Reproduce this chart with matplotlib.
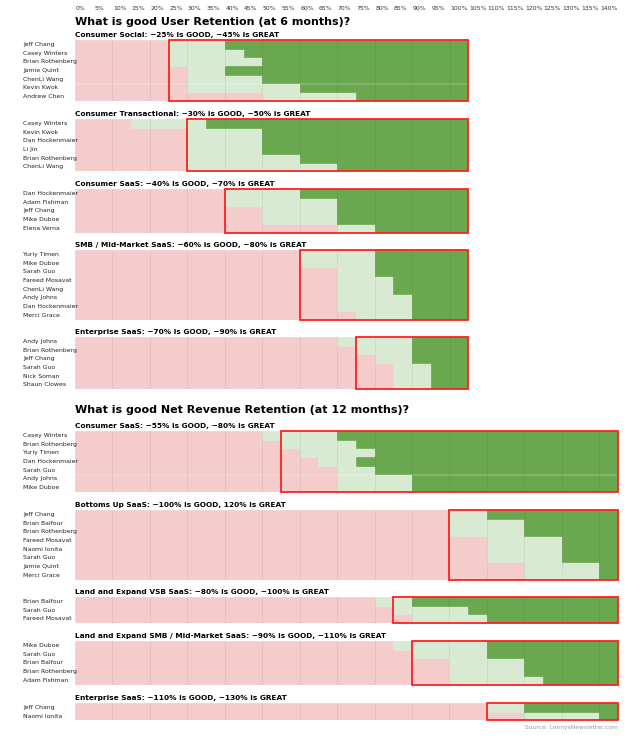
import matplotlib
matplotlib.use("Agg")
import matplotlib.pyplot as plt
from matplotlib.patches import Rectangle

W, H = 640, 739
X0, PX_PER_PCT = 75, 3.745
ROW_H = 8.7

PINK = "#f4cccc"
LIGHT = "#d9ead3"
DARK = "#6aa84f"

TITLE_UR = "What is good User Retention (at 6 months)?"
TITLE_NRR = "What is good Net Revenue Retention (at 12 months)?"

# user retention panels: names, good %, great %
social_names = ["Jeff Chang", "Casey Winters", "Brian Rothenberg", "Jamie Quint",
                "ChenLi Wang", "Kevin Kwok", "Andrew Chen"]
social_good = [25, 25, 25, 30, 30, 30, 50]
social_great = [40, 45, 50, 40, 50, 60, 75]

trans_names = ["Casey Winters", "Kevin Kwok", "Dan Hockenmaier", "Li Jin",
               "Brian Rothenberg", "ChenLi Wang"]
trans_good = [15, 30, 30, 30, 30, 30]
trans_great = [35, 50, 50, 50, 60, 70]

csaas_names = ["Dan Hockenmaier", "Adam Fishman", "Jeff Chang", "Mike Duboe", "Elena Verna"]
csaas_good = [40, 40, 50, 50, 70]
csaas_great = [60, 70, 70, 70, 80]

smb_names = ["Yuriy Timen", "Mike Duboe", "Sarah Guo", "Fareed Mosavat", "ChenLi Wang",
             "Andy Johns", "Dan Hockenmaier", "Merci Grace"]
smb_good = [60, 60, 70, 70, 70, 70, 70, 75]
smb_great = [80, 80, 80, 85, 85, 90, 90, 90]

ent_names = ["Andy Johns", "Brian Rothenberg", "Jeff Chang", "Sarah Guo", "Nick Soman",
             "Shaun Clowes"]
ent_good = [70, 75, 80, 85, 85, 85]
ent_great = [90, 90, 90, 95, 95, 95]

# net revenue retention panels
nrr_c_names = ["Casey Winters", "Brian Rothenberg", "Yuriy Timen", "Dan Hockenmaier",
               "Sarah Guo", "Andy Johns", "Mike Duboe"]
nrr_c_good = [50, 55, 60, 65, 70, 70, 70]
nrr_c_great = [70, 75, 80, 75, 80, 90, 90]

nrr_bu_names = ["Jeff Chang", "Brian Balfour", "Brian Rothenberg", "Fareed Mosavat",
                "Naomi Ionita", "Sarah Guo", "Jamie Quint", "Merci Grace"]
nrr_bu_good = [100, 100, 100, 110, 110, 110, 120, 120]
nrr_bu_great = [110, 120, 120, 130, 130, 130, 140, 140]

nrr_vsb_names = ["Brian Balfour", "Sarah Guo", "Fareed Mosavat"]
nrr_vsb_good = [80, 85, 90]
nrr_vsb_great = [90, 105, 110]

nrr_smb_names = ["Mike Duboe", "Sarah Guo", "Brian Balfour", "Brian Rothenberg", "Adam Fishman"]
nrr_smb_good = [85, 90, 100, 100, 100]
nrr_smb_great = [110, 110, 120, 120, 125]

nrr_ent_names = ["Jeff Chang", "Naomi Ionita"]
nrr_ent_good = [110, 120]
nrr_ent_great = [120, 140]

top_ticks = list(range(0, 145, 5))

# (subtitle, names, good, great, box start, panel end %, top pixel)
panels = [
    ("Consumer Social: ~25% is GOOD, ~45% is GREAT", social_names, social_good, social_great, 25, 105, 40),
    ("Consumer Transactional: ~30% is GOOD, ~50% is GREAT", trans_names, trans_good, trans_great, 30, 105, 119),
    ("Consumer SaaS: ~40% is GOOD, ~70% is GREAT", csaas_names, csaas_good, csaas_great, 40, 105, 189),
    ("SMB / Mid-Market SaaS: ~60% is GOOD, ~80% is GREAT", smb_names, smb_good, smb_great, 60, 105, 250),
    ("Enterprise SaaS: ~70% is GOOD, ~90% is GREAT", ent_names, ent_good, ent_great, 75, 105, 337),
    ("Consumer SaaS: ~55% is GOOD, ~80% is GREAT", nrr_c_names, nrr_c_good, nrr_c_great, 55, 145, 431),
    ("Bottoms Up SaaS: ~100% is GOOD, 120% is GREAT", nrr_bu_names, nrr_bu_good, nrr_bu_great, 100, 145, 510),
    ("Land and Expand VSB SaaS: ~80% is GOOD, ~100% is GREAT", nrr_vsb_names, nrr_vsb_good, nrr_vsb_great, 85, 145, 597),
    ("Land and Expand SMB / Mid-Market SaaS: ~90% is GOOD, ~110% is GREAT", nrr_smb_names, nrr_smb_good, nrr_smb_great, 90, 145, 641),
    ("Enterprise SaaS: ~110% is GOOD, ~130% is GREAT", nrr_ent_names, nrr_ent_good, nrr_ent_great, 110, 145, 703),
]

fig = plt.figure(figsize=(W / 100, H / 100), dpi=100)


def px_x(pct):
    return (X0 + pct * PX_PER_PCT) / W


def px_y(y):
    return 1 - y / H


# top axis labels
for t in top_ticks:
    fig.text(px_x(t) + 0.001, px_y(9), f"{t}%", fontsize=4.4, ha="left", va="center", color="#333333")

fig.text(px_x(0), px_y(22), TITLE_UR, fontsize=8, fontweight="bold", va="center")
fig.text(px_x(0), px_y(410), TITLE_NRR, fontsize=8, fontweight="bold", va="center")

for sub, names, good, great, box, end, top in panels:
    n = len(names)
    h = n * ROW_H
    ax = fig.add_axes([px_x(0), px_y(top + h), end * PX_PER_PCT / W, h / H])
    ys = range(n)
    # edge in the fill colour hides hairline gaps between rows
    ax.barh(ys, good, height=1, color=PINK, edgecolor=PINK, linewidth=0.5)
    ax.barh(ys, [g2 - g1 for g1, g2 in zip(good, great)], left=good, height=1,
            color=LIGHT, edgecolor=LIGHT, linewidth=0.5)
    ax.barh(ys, [end - g for g in great], left=great, height=1, color=DARK, edgecolor=DARK, linewidth=0.5)
    for gx in range(10, end, 10):
        ax.axvline(gx, color="black", alpha=0.07, lw=0.6)
    ax.add_patch(Rectangle((box, -0.5), end - box, n, fill=False, edgecolor="#ff2020", lw=1.3,
                           clip_on=False, zorder=5))
    ax.set_xlim(0, end)
    ax.set_ylim(n - 0.5, -0.5)
    ax.axis("off")
    fig.text(px_x(0), px_y(top - 5), sub, fontsize=5.3, fontweight="bold", va="center")
    for i, name in enumerate(names):
        fig.text(23 / W, px_y(top + (i + 0.5) * ROW_H), name, fontsize=4.4, va="center", color="#222222")

fig.text(618 / W, px_y(728), "Source: LennysNewsletter.com", fontsize=4.3, ha="right", va="center",
         color="#999999")

fig.savefig("out.png", dpi=100)
